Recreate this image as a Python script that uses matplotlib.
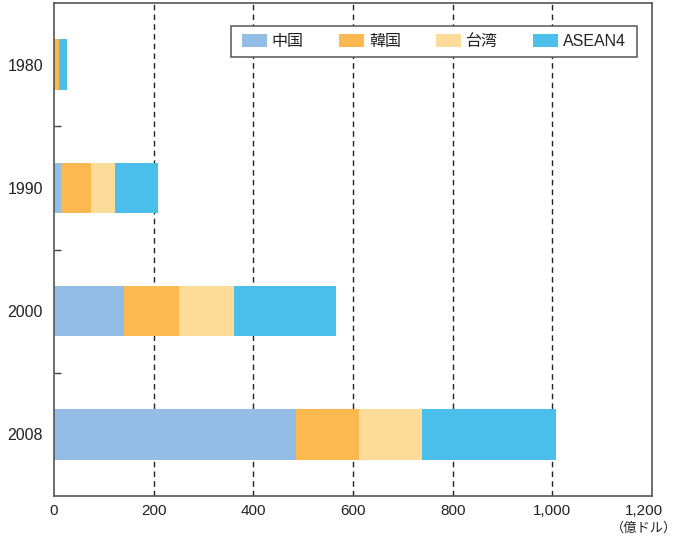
import matplotlib
matplotlib.use("Agg")
import matplotlib.pyplot as plt
from matplotlib.patches import Rectangle, Patch
from matplotlib.transforms import ScaledTranslation
import numpy as np

plt.rcParams['font.family'] = ['Liberation Sans', 'Noto Sans CJK JP', 'DejaVu Sans']

# Data (億ドル)
years = ["1980", "1990", "2000", "2008"]
series_names = ["中国", "韓国", "台湾", "ASEAN4"]
china = [1, 15, 140, 485]
korea = [9, 59, 111, 127]
taiwan = [0, 48, 110, 127]
asean4 = [16, 86, 205, 269]
x_ticks = [0, 200, 400, 600, 800, 1000, 1200]
x_tick_labels = ["0", "200", "400", "600", "800", "1,000", "1,200"]
unit_label = "（億ドル）"

colors = ["#94bde5", "#fbb94f", "#fddc9a", "#4bbfeb"]

fig = plt.figure(figsize=(6.86, 5.37), dpi=100)
ax = fig.add_axes([54 / 686, 1 - 496 / 537, 598 / 686, 493 / 537])

ypos = np.arange(len(years))
left = np.zeros(len(years))
for vals, name, col in zip([china, korea, taiwan, asean4], series_names, colors):
    ax.barh(ypos, vals, left=left, height=0.41, color=col, label=name,
            zorder=2, linewidth=0)
    left += np.array(vals, dtype=float)

ax.set_ylim(len(years) - 0.5, -0.5)
ax.set_xlim(0, 1200)

ax.set_yticks(ypos)
ax.set_yticklabels(years)
ax.set_yticks(ypos[:-1] + 0.5, minor=True)
ax.tick_params(axis='y', which='major', length=0, pad=8, labelsize=11.5, labelcolor="#222222")
ax.tick_params(axis='y', which='minor', direction='in', length=5, width=1, color="#444444")

ax.set_xticks(x_ticks)
ax.set_xticklabels(x_tick_labels)
ax.tick_params(axis='x', which='major', length=0, pad=6, labelsize=11, labelcolor="#222222")
# nudge the last tick label inward so it stays above the unit label
last_lbl = ax.get_xticklabels()[-1]
last_lbl.set_transform(last_lbl.get_transform() +
                       ScaledTranslation(-6 / 72, 0, fig.dpi_scale_trans))

ax.set_axisbelow(True)
ax.grid(axis='x', linestyle=(0, (4, 3)), color="#222222", linewidth=1.0)
ax.grid(axis='y', visible=False)
# no dashed line on top of the left/right frame
xgl = ax.get_xgridlines()
xgl[0].set_visible(False)
xgl[-1].set_visible(False)

for sp in ax.spines.values():
    sp.set_color("#555555")
    sp.set_linewidth(1.2)

# unit label under the last tick
fig.text(644 / 686, 1 - 528 / 537, unit_label, ha='center', va='center',
         fontsize=9.5, color="#222222")

# legend with a separately drawn frame
x0 = (231 - 54) / 598
x1 = (637 - 54) / 598
y_top = 1 - (26 - 3) / 493
y_bot = 1 - (57 - 3) / 493
ax.add_patch(Rectangle((x0, y_bot), x1 - x0, y_top - y_bot, transform=ax.transAxes,
                       facecolor="white", edgecolor="#555555", linewidth=1.1, zorder=5))
handles = [Patch(facecolor=c, edgecolor='none') for c in colors]
leg = ax.legend(handles, series_names, loc='center', ncol=4,
                bbox_to_anchor=((x0 + x1) / 2, (y_top + y_bot) / 2),
                frameon=False, fontsize=11.5, handlelength=1.56, handleheight=0.8,
                handletextpad=0.32, columnspacing=2.2, borderpad=0.2)
leg.set_zorder(6)
for t in leg.get_texts():
    t.set_color("#222222")

fig.savefig("out.png", dpi=100)
